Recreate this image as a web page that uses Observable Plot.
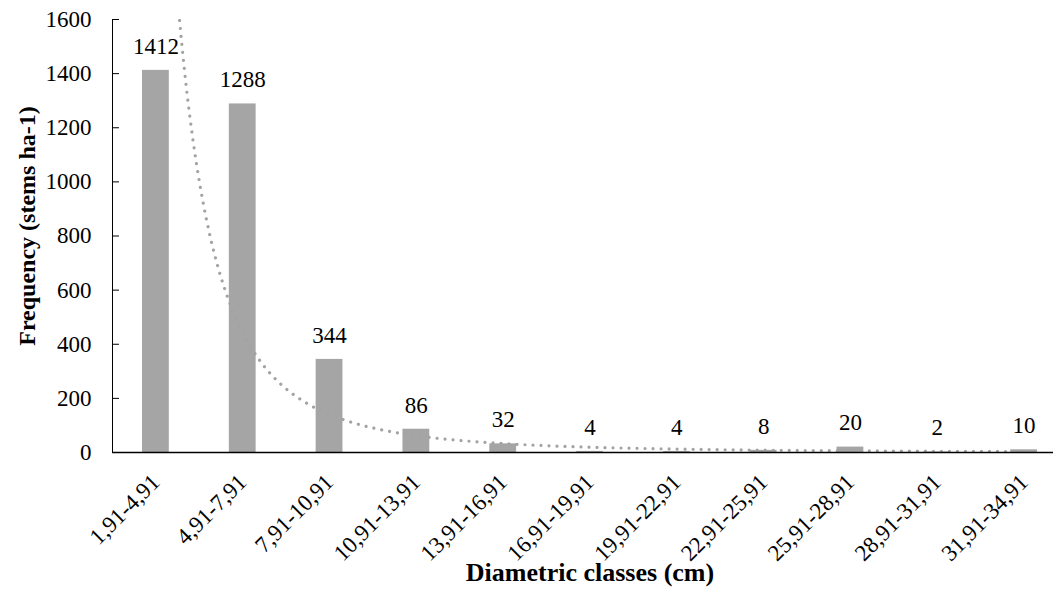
<!DOCTYPE html>
<html>
<head>
<meta charset="utf-8">
<script src="https://cdn.jsdelivr.net/npm/d3@7"></script>
<script src="https://cdn.jsdelivr.net/npm/@observablehq/plot@0.6"></script>
<style>
  html, body { margin: 0; padding: 0; background: #fff; overflow: hidden; }
  #chart svg { display: block; }
  #chart svg, #chart svg text {
    font-family: "Liberation Serif", "Times New Roman", serif !important;
  }
</style>
</head>
<body>
<div id="chart"></div>
<script>
// Diameter classes (cm) and stem density per class (stems/ha)
const categories = [
  "1,91-4,91", "4,91-7,91", "7,91-10,91", "10,91-13,91", "13,91-16,91",
  "16,91-19,91", "19,91-22,91", "22,91-25,91", "25,91-28,91", "28,91-31,91",
  "31,91-34,91"
];
const stems = [1412, 1288, 344, 86, 32, 4, 4, 8, 20, 2, 10];
const yTicks = [0, 200, 400, 600, 800, 1000, 1200, 1400, 1600];

const bars = categories.map((cls, i) => ({ cls, pos: i + 1, n: stems[i] }));

// Power trendline y = a·x^b, least squares on log(x), log(y)
const lx = bars.map(d => Math.log(d.pos));
const ly = bars.map(d => Math.log(d.n));
const mx = d3.mean(lx), my = d3.mean(ly);
const b = d3.sum(lx, (v, i) => (v - mx) * (ly[i] - my)) / d3.sum(lx, v => (v - mx) ** 2);
const a = Math.exp(my - b * mx);
const trend = d3.range(1, 11.0001, 0.02).map(x => ({ x, y: a * Math.pow(x, b) }));

const chart = Plot.plot({
  width: 1053,
  height: 592,
  marginTop: 19,
  marginBottom: 140,
  marginLeft: 112,
  marginRight: -14,
  style: { fontSize: "23px", color: "#000", background: "#fff" },
  x: { domain: [0.5, 11.5] },
  y: { domain: [0, 1600] },
  marks: [
    Plot.rectY(bars, {
      x1: d => d.pos - 0.5, x2: d => d.pos + 0.5, y: "n",
      fill: "#a5a5a5", insetLeft: 30, insetRight: 30
    }),
    Plot.line(trend, {
      x: "x", y: "y", stroke: "#a3a3a3", strokeWidth: 3.2,
      strokeDasharray: "0.01 8", strokeLinecap: "round", clip: true
    }),
    Plot.text(bars, {
      x: "pos", y: "n", text: d => String(d.n),
      dy: -24, lineAnchor: "middle", fontSize: 23, fill: "#000"
    }),
    Plot.axisY({ ticks: yTicks, tickFormat: d3.format("d"), tickSize: 0, tickPadding: 21, label: null, fontSize: 23 }),
    Plot.axisY({ ticks: yTicks, tickSize: 7, dx: 7, tickFormat: () => "", label: null }),
    Plot.axisX({
      ticks: d3.range(1, 12), tickFormat: i => categories[i - 1],
      tickRotate: -45, tickSize: 0, tickPadding: 26, label: null, fontSize: 23
    }),
    Plot.ruleX([0.5], { stroke: "#000", strokeWidth: 1 }),
    Plot.ruleY([0], { stroke: "#000", strokeWidth: 1.6 }),
    Plot.text(["Diametric classes (cm)"], {
      frameAnchor: "bottom", dy: 128, fontWeight: "bold", fontSize: 26, fill: "#000"
    }),
    Plot.text(["Frequency (stems ha-1)"], {
      frameAnchor: "left", textAnchor: "middle", dx: -85, dy: -10, rotate: -90,
      fontWeight: "bold", fontSize: 24, fill: "#000"
    })
  ]
});

document.getElementById("chart").append(chart);
</script>
</body>
</html>
